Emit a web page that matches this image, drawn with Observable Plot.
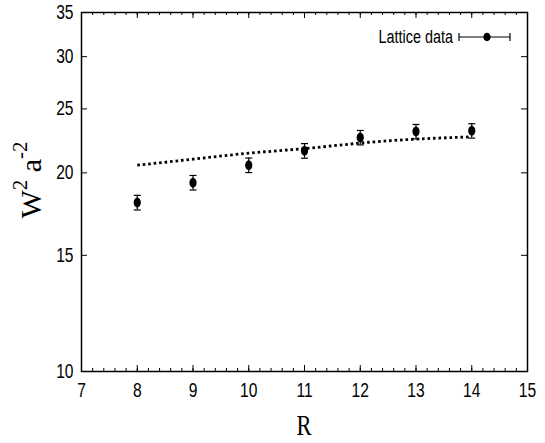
<!DOCTYPE html>
<html><head><meta charset="utf-8">
<script src="https://cdn.jsdelivr.net/npm/d3@7"></script>
<script src="https://cdn.jsdelivr.net/npm/@observablehq/plot@0.6"></script>
<style>body{margin:0;background:#fff}</style>
</head><body><div id="chart"></div>
<script>
// Data
const R      = [8, 9, 10, 11, 12, 13, 14];
const W2     = [18.03, 19.33, 20.54, 21.60, 22.62, 23.10, 23.16];
const W2err  = [0.46, 0.49, 0.52, 0.55, 0.57, 0.58, 0.58];
const fitR   = [8, 9, 10, 11, 12, 13, 14];
const fitW2  = [20.54, 20.98, 21.42, 21.77, 22.19, 22.50, 22.68];
const xTicks = [7, 8, 9, 10, 11, 12, 13, 14, 15];
const yTicks = [10, 15, 20, 25, 30, 35];
const legendLabel = "Lattice data";
const xLabel = "R";

const points = R.map((r, i) => ({R: r, W2: W2[i], lo: W2[i] - W2err[i], hi: W2[i] + W2err[i]}));
const fit = fitR.map((r, i) => ({R: r, W2: fitW2[i]}));
const xMinor = d3.range(7, 15.001, 0.2).map(v => +v.toFixed(1));

const W = 545, H = 443, mL = 81, mR = 18, mT = 12, mB = 72;
const fH = H - mT - mB, fW = W - mL - mR;

function ellipsePath(ctx, rx, ry) {
  const k = 0.5523;
  ctx.moveTo(rx, 0);
  ctx.bezierCurveTo(rx, ry * k, rx * k, ry, 0, ry);
  ctx.bezierCurveTo(-rx * k, ry, -rx, ry * k, -rx, 0);
  ctx.bezierCurveTo(-rx, -ry * k, -rx * k, -ry, 0, -ry);
  ctx.bezierCurveTo(rx * k, -ry, rx, -ry * k, rx, 0);
  ctx.closePath();
}
const ellipseSymbol = {draw(ctx) { ellipsePath(ctx, 3.6, 5); }};
const capSymbol = {draw(ctx) { ctx.moveTo(-3.5, 0); ctx.lineTo(3.5, 0); }};

const tickFont = "'Liberation Sans', Arial, sans-serif";

const chart = Plot.plot({
  width: W, height: H,
  marginLeft: mL, marginRight: mR, marginTop: mT, marginBottom: mB,
  style: {fontFamily: tickFont, fontSize: "19.5px", color: "#000", background: "#fff", overflow: "visible"},
  x: {domain: [7, 15]},
  y: {type: "log", domain: [10, 35]},
  marks: [
    // minor & major ticks (inward) on bottom/top
    Plot.ruleX(xMinor, {stroke: "#000", strokeWidth: 1, insetTop: fH - 3}),
    Plot.ruleX(xMinor, {stroke: "#000", strokeWidth: 1, insetBottom: fH - 3}),
    Plot.ruleX(xTicks, {stroke: "#000", strokeWidth: 1, insetTop: fH - 6}),
    Plot.ruleX(xTicks, {stroke: "#000", strokeWidth: 1, insetBottom: fH - 6}),
    // major ticks left/right
    Plot.ruleY(yTicks, {stroke: "#000", strokeWidth: 1, insetRight: fW - 6}),
    Plot.ruleY(yTicks, {stroke: "#000", strokeWidth: 1, insetLeft: fW - 6}),
    Plot.axisX({ticks: xTicks, tickSize: 0, tickPadding: 12, label: null, tickFormat: d => String(d)}),
    Plot.axisY({ticks: yTicks, tickSize: 0, tickPadding: 8, label: null, tickFormat: d => String(d)}),
    Plot.frame({stroke: "#000", strokeWidth: 1.5}),
    // fit line
    Plot.line(fit, {x: "R", y: "W2", curve: "natural", stroke: "#000", strokeWidth: 2.8,
                    strokeDasharray: "2.6,2.9", strokeLinecap: "butt"}),
    // error bars
    Plot.ruleX(points, {x: "R", y1: "lo", y2: "hi", stroke: "#000", strokeWidth: 1.2}),
    Plot.dot(points, {x: "R", y: "lo", symbol: capSymbol, stroke: "#000", strokeWidth: 1.2, fill: "none"}),
    Plot.dot(points, {x: "R", y: "hi", symbol: capSymbol, stroke: "#000", strokeWidth: 1.2, fill: "none"}),
    Plot.dot(points, {x: "R", y: "W2", symbol: ellipseSymbol, fill: "#000", stroke: "none"})
  ]
});

document.getElementById("chart").appendChild(chart);
const svg = d3.select(chart);

// x axis title
svg.append("text")
  .attr("transform", `translate(304,435) scale(0.75,1)`)
  .attr("text-anchor", "middle")
  .attr("font-family", "'Liberation Serif', 'Times New Roman', serif")
  .attr("font-size", 30)
  .attr("fill", "#000")
  .text(xLabel);

// y axis title W^2 a^-2
const yl = svg.append("text")
  .attr("transform", `translate(41,180) rotate(-90)`)
  .attr("text-anchor", "middle")
  .attr("font-family", "'Liberation Serif', 'Times New Roman', serif")
  .attr("font-size", 30)
  .attr("fill", "#000");
yl.append("tspan").text("W");
yl.append("tspan").attr("font-size", 21).attr("dy", -14).text("2");
yl.append("tspan").attr("dy", 14).text("\u00a0a");
yl.append("tspan").attr("font-size", 21).attr("dy", -14).text("-2");

// legend
const lg = svg.append("g");
lg.append("text")
  .attr("x", 453).attr("y", 37)
  .attr("text-anchor", "end").attr("dominant-baseline", "central")
  .attr("font-family", tickFont).attr("font-size", 18).attr("fill", "#000")
  .attr("class", "narrow")
  .text(legendLabel);
lg.append("line").attr("x1", 459).attr("x2", 510).attr("y1", 37).attr("y2", 37).attr("stroke", "#000").attr("stroke-width", 1.2);
lg.append("line").attr("x1", 459).attr("x2", 459).attr("y1", 33).attr("y2", 41).attr("stroke", "#000").attr("stroke-width", 1.2);
lg.append("line").attr("x1", 510).attr("x2", 510).attr("y1", 33).attr("y2", 41).attr("stroke", "#000").attr("stroke-width", 1.2);
const sym = d3.path(); ellipsePath(sym, 3.6, 4.2);
lg.append("path").attr("transform", "translate(487,37)").attr("d", sym.toString()).attr("fill", "#000");

// narrow the sans text (reference uses a condensed face)
svg.selectAll("g[aria-label$='tick label'] text, text.narrow").each(function() {
  const len = this.getComputedTextLength();
  this.setAttribute("textLength", (len * 0.8).toFixed(2));
  this.setAttribute("lengthAdjust", "spacingAndGlyphs");
});
</script>
</body></html>
